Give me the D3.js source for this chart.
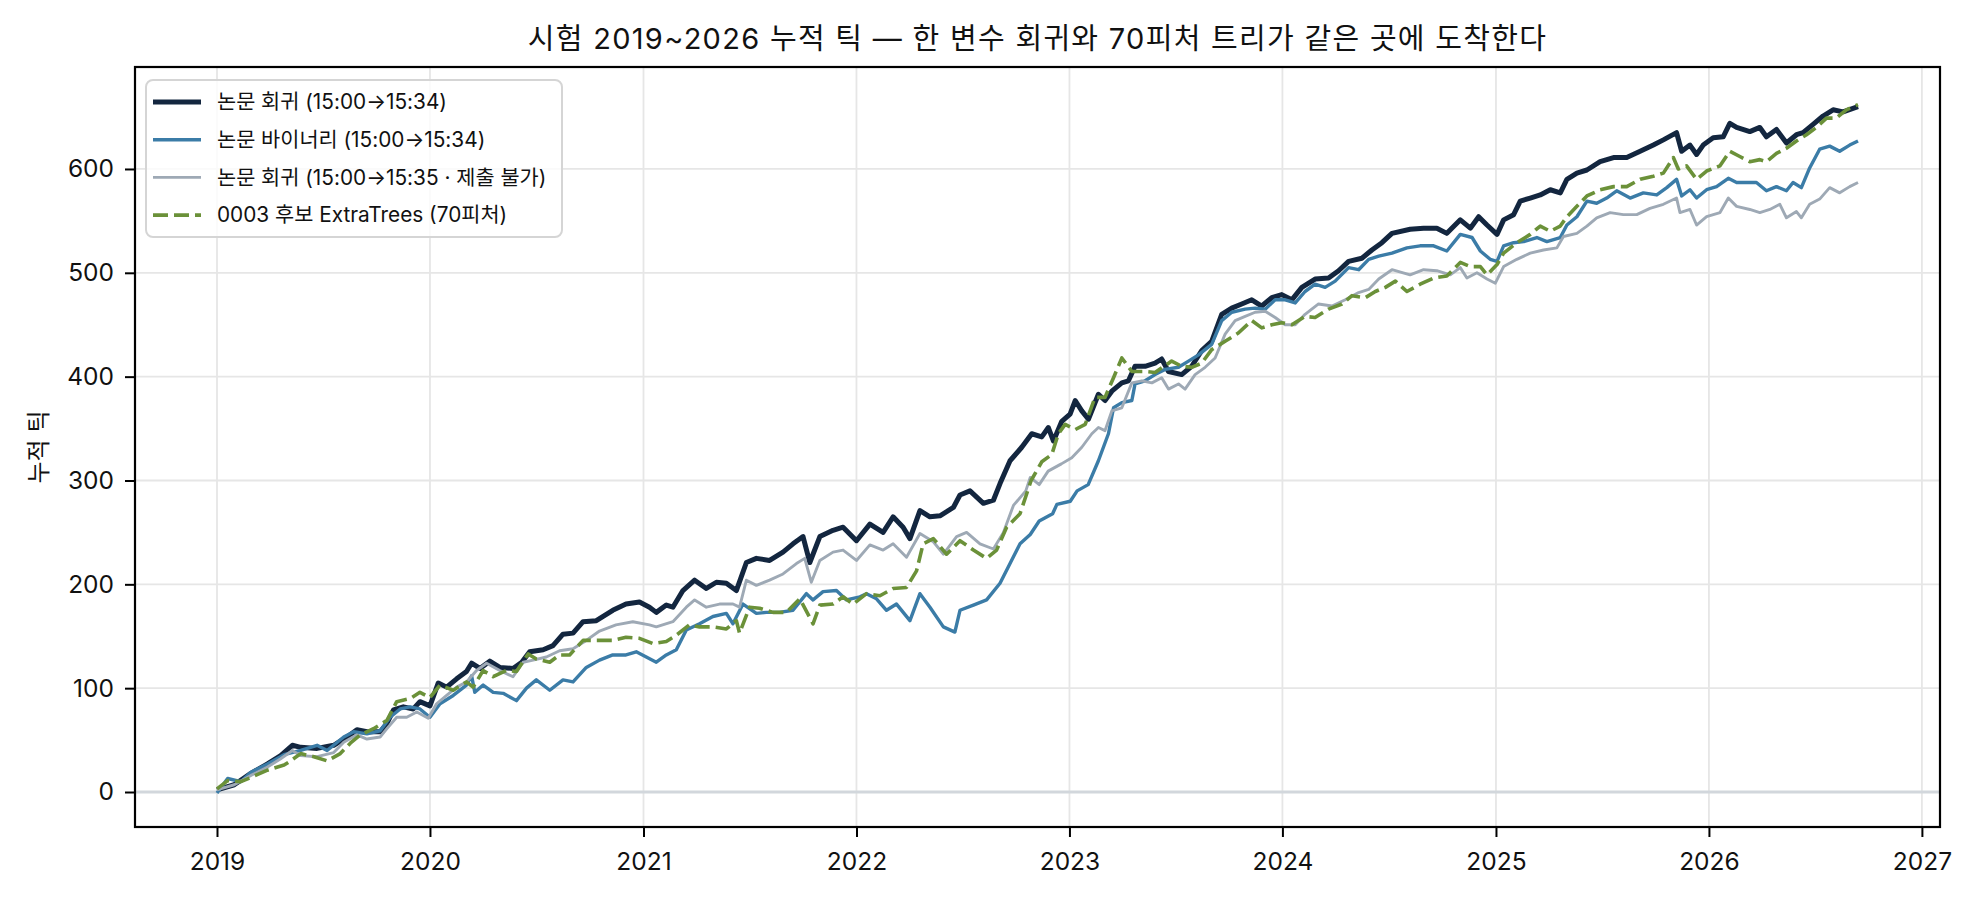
<!DOCTYPE html>
<html>
<head>
<meta charset="utf-8">
<script src="https://cdn.jsdelivr.net/npm/d3@7"></script>
<style>
  body { margin: 0; background: #fff; }
  text { font-family: "Inter", "Noto Sans CJK KR", sans-serif; fill: #111; }
</style>
</head>
<body>
<div id="chart"></div>
<script>
// cumulative ticks, test period 2019~2026

// values, [decimal year, cumulative ticks]
const navy = [[2019.000,2],[2019.081,7],[2019.159,18],[2019.237,27],[2019.299,35],[2019.354,45],[2019.393,43],[2019.470,42],[2019.548,45],[2019.611,53],[2019.657,60],[2019.704,58],[2019.766,58],[2019.798,66],[2019.829,79],[2019.875,82],[2019.922,80],[2019.953,87],[2020.000,83],[2020.039,105],[2020.078,101],[2020.125,109],[2020.171,116],[2020.195,124],[2020.234,119],[2020.280,126],[2020.327,120],[2020.389,119],[2020.430,125],[2020.467,135],[2020.530,137],[2020.576,141],[2020.623,152],[2020.670,153],[2020.717,164],[2020.779,165],[2020.856,175],[2020.918,181],[2020.981,183],[2021.028,178],[2021.060,173],[2021.107,180],[2021.138,178],[2021.185,194],[2021.240,204],[2021.295,196],[2021.342,202],[2021.389,201],[2021.436,194],[2021.483,221],[2021.530,225],[2021.592,223],[2021.655,231],[2021.702,239],[2021.749,246],[2021.781,221],[2021.828,246],[2021.890,252],[2021.937,255],[2022.000,242],[2022.063,258],[2022.125,250],[2022.172,265],[2022.219,255],[2022.251,244],[2022.298,271],[2022.345,265],[2022.392,266],[2022.455,274],[2022.486,286],[2022.533,290],[2022.596,278],[2022.643,281],[2022.674,297],[2022.721,319],[2022.776,332],[2022.823,345],[2022.870,342],[2022.901,351],[2022.925,338],[2022.964,357],[2023.003,364],[2023.027,377],[2023.058,367],[2023.089,359],[2023.136,383],[2023.167,377],[2023.199,386],[2023.246,394],[2023.277,396],[2023.308,410],[2023.355,410],[2023.402,413],[2023.433,417],[2023.465,405],[2023.527,402],[2023.574,410],[2023.621,425],[2023.668,434],[2023.715,460],[2023.762,466],[2023.809,470],[2023.856,474],[2023.903,468],[2023.950,476],[2023.997,479],[2024.044,474],[2024.091,486],[2024.153,494],[2024.216,495],[2024.263,502],[2024.310,511],[2024.372,514],[2024.419,522],[2024.466,529],[2024.513,538],[2024.598,542],[2024.661,543],[2024.723,543],[2024.770,538],[2024.833,551],[2024.880,543],[2024.919,554],[2024.958,546],[2025.005,537],[2025.036,551],[2025.083,556],[2025.114,569],[2025.161,572],[2025.208,575],[2025.255,580],[2025.302,577],[2025.333,590],[2025.380,596],[2025.427,599],[2025.489,607],[2025.552,611],[2025.614,611],[2025.677,617],[2025.739,623],[2025.786,628],[2025.848,635],[2025.872,617],[2025.911,623],[2025.942,614],[2025.973,623],[2026.020,630],[2026.067,631],[2026.098,644],[2026.130,640],[2026.192,636],[2026.239,640],[2026.270,631],[2026.317,638],[2026.364,625],[2026.411,633],[2026.442,635],[2026.489,643],[2026.536,651],[2026.583,657],[2026.630,655],[2026.700,660]];

const blue = [[2019.000,-1],[2019.050,13],[2019.112,10],[2019.159,19],[2019.237,27],[2019.315,36],[2019.393,40],[2019.470,45],[2019.517,40],[2019.595,53],[2019.642,58],[2019.704,56],[2019.766,59],[2019.813,72],[2019.860,80],[2019.907,82],[2019.953,80],[2020.000,72],[2020.047,85],[2020.109,93],[2020.171,103],[2020.195,112],[2020.210,96],[2020.249,103],[2020.296,96],[2020.343,95],[2020.405,88],[2020.452,100],[2020.498,108],[2020.561,98],[2020.623,108],[2020.670,106],[2020.732,120],[2020.794,127],[2020.856,132],[2020.918,132],[2020.966,135],[2021.013,130],[2021.060,125],[2021.107,132],[2021.154,137],[2021.201,156],[2021.263,162],[2021.326,169],[2021.389,172],[2021.420,162],[2021.467,181],[2021.530,172],[2021.577,173],[2021.639,173],[2021.702,175],[2021.765,191],[2021.796,185],[2021.843,193],[2021.906,194],[2021.953,185],[2022.016,188],[2022.047,191],[2022.094,186],[2022.141,175],[2022.188,181],[2022.251,165],[2022.298,191],[2022.345,178],[2022.408,159],[2022.462,154],[2022.486,175],[2022.549,180],[2022.611,185],[2022.674,201],[2022.721,220],[2022.768,239],[2022.816,248],[2022.858,261],[2022.921,268],[2022.941,277],[2023.004,280],[2023.036,290],[2023.088,296],[2023.136,319],[2023.183,345],[2023.207,370],[2023.246,375],[2023.293,377],[2023.308,393],[2023.355,396],[2023.402,402],[2023.449,407],[2023.512,409],[2023.559,415],[2023.606,421],[2023.668,431],[2023.715,454],[2023.762,462],[2023.825,465],[2023.872,466],[2023.919,465],[2023.966,474],[2024.013,474],[2024.060,471],[2024.106,482],[2024.153,489],[2024.200,486],[2024.247,492],[2024.310,505],[2024.357,503],[2024.404,513],[2024.451,516],[2024.513,519],[2024.583,524],[2024.645,526],[2024.708,526],[2024.770,521],[2024.833,537],[2024.888,534],[2024.927,521],[2024.973,513],[2025.005,511],[2025.036,526],[2025.083,529],[2025.130,530],[2025.192,534],[2025.239,530],[2025.302,534],[2025.333,546],[2025.380,554],[2025.427,569],[2025.473,567],[2025.520,572],[2025.567,579],[2025.630,572],[2025.692,577],[2025.755,575],[2025.802,582],[2025.848,590],[2025.872,574],[2025.911,580],[2025.942,572],[2025.989,580],[2026.036,583],[2026.091,591],[2026.130,587],[2026.177,587],[2026.223,587],[2026.270,579],[2026.317,583],[2026.364,579],[2026.395,587],[2026.434,582],[2026.473,601],[2026.520,619],[2026.567,622],[2026.614,617],[2026.661,623],[2026.700,627]];

const gray = [[2019.000,2],[2019.081,7],[2019.159,16],[2019.237,24],[2019.299,32],[2019.354,40],[2019.393,35],[2019.470,34],[2019.548,38],[2019.595,48],[2019.657,55],[2019.704,51],[2019.766,53],[2019.798,61],[2019.844,72],[2019.891,72],[2019.938,77],[2019.992,71],[2020.031,85],[2020.078,93],[2020.125,101],[2020.171,106],[2020.218,117],[2020.265,124],[2020.327,117],[2020.389,111],[2020.436,125],[2020.483,127],[2020.545,130],[2020.607,136],[2020.670,138],[2020.732,146],[2020.794,155],[2020.871,161],[2020.950,164],[2021.028,161],[2021.060,159],[2021.138,164],[2021.201,178],[2021.240,185],[2021.295,178],[2021.357,181],[2021.420,181],[2021.451,178],[2021.483,204],[2021.530,199],[2021.592,204],[2021.655,210],[2021.718,220],[2021.757,225],[2021.788,202],[2021.828,223],[2021.890,231],[2021.937,233],[2022.000,223],[2022.063,238],[2022.125,233],[2022.172,239],[2022.235,226],[2022.298,249],[2022.361,241],[2022.408,229],[2022.470,246],[2022.517,250],[2022.580,239],[2022.643,234],[2022.690,250],[2022.737,276],[2022.795,290],[2022.816,303],[2022.858,296],[2022.900,309],[2022.962,316],[2023.011,322],[2023.058,332],[2023.105,345],[2023.136,351],[2023.167,348],[2023.199,367],[2023.246,370],[2023.293,394],[2023.340,396],[2023.387,394],[2023.433,399],[2023.465,388],[2023.512,393],[2023.543,388],[2023.590,402],[2023.637,409],[2023.684,418],[2023.731,441],[2023.778,454],[2023.825,458],[2023.872,462],[2023.919,463],[2023.966,457],[2024.013,450],[2024.060,450],[2024.106,460],[2024.169,470],[2024.232,468],[2024.294,474],[2024.357,481],[2024.404,484],[2024.451,494],[2024.513,503],[2024.598,498],[2024.661,503],[2024.723,502],[2024.786,498],[2024.833,505],[2024.864,495],[2024.911,500],[2024.958,494],[2024.997,490],[2025.036,506],[2025.098,513],[2025.161,519],[2025.223,522],[2025.286,524],[2025.317,535],[2025.380,538],[2025.427,545],[2025.473,553],[2025.536,558],[2025.598,556],[2025.661,556],[2025.723,562],[2025.786,566],[2025.848,572],[2025.864,558],[2025.911,561],[2025.942,546],[2025.989,554],[2026.052,558],[2026.091,572],[2026.130,564],[2026.192,561],[2026.239,558],[2026.286,561],[2026.333,566],[2026.364,553],[2026.411,559],[2026.434,553],[2026.473,566],[2026.520,571],[2026.567,582],[2026.614,577],[2026.661,583],[2026.700,587]];

const green = [[2019.000,3],[2019.050,11],[2019.112,10],[2019.159,14],[2019.237,21],[2019.315,26],[2019.346,30],[2019.393,37],[2019.455,34],[2019.517,30],[2019.579,37],[2019.626,47],[2019.673,55],[2019.735,61],[2019.798,69],[2019.844,87],[2019.907,90],[2019.953,96],[2020.000,91],[2020.047,103],[2020.109,98],[2020.171,106],[2020.202,101],[2020.249,117],[2020.296,111],[2020.358,117],[2020.405,116],[2020.460,133],[2020.498,128],[2020.561,125],[2020.607,132],[2020.654,132],[2020.717,146],[2020.763,146],[2020.856,146],[2020.918,149],[2020.981,148],[2021.044,143],[2021.107,145],[2021.154,151],[2021.216,161],[2021.263,159],[2021.326,159],[2021.389,157],[2021.436,165],[2021.451,153],[2021.498,178],[2021.545,177],[2021.608,173],[2021.671,173],[2021.734,186],[2021.796,162],[2021.828,180],[2021.890,181],[2021.937,188],[2021.984,181],[2022.047,191],[2022.110,189],[2022.172,196],[2022.235,197],[2022.282,213],[2022.313,239],[2022.361,244],[2022.423,229],[2022.486,242],[2022.549,233],[2022.611,225],[2022.658,233],[2022.705,255],[2022.768,268],[2022.820,300],[2022.870,318],[2022.917,325],[2022.948,345],[2022.980,354],[2023.027,349],[2023.074,354],[2023.120,380],[2023.167,380],[2023.207,399],[2023.246,418],[2023.293,405],[2023.355,405],[2023.402,404],[2023.480,415],[2023.527,410],[2023.574,409],[2023.621,413],[2023.668,426],[2023.731,434],[2023.793,442],[2023.856,454],[2023.903,447],[2023.950,450],[2023.997,452],[2024.044,450],[2024.106,458],[2024.153,457],[2024.216,465],[2024.279,470],[2024.326,478],[2024.388,476],[2024.435,482],[2024.482,486],[2024.529,492],[2024.583,482],[2024.645,489],[2024.708,495],[2024.770,497],[2024.833,510],[2024.880,506],[2024.927,506],[2024.958,498],[2025.005,508],[2025.036,519],[2025.098,529],[2025.161,537],[2025.208,545],[2025.255,540],[2025.302,545],[2025.333,554],[2025.380,564],[2025.427,574],[2025.489,580],[2025.552,583],[2025.614,583],[2025.677,590],[2025.739,593],[2025.786,596],[2025.833,611],[2025.856,600],[2025.895,603],[2025.942,590],[2025.989,598],[2026.052,603],[2026.098,617],[2026.145,612],[2026.192,607],[2026.239,609],[2026.270,607],[2026.317,615],[2026.364,620],[2026.411,627],[2026.458,633],[2026.505,640],[2026.552,649],[2026.598,649],[2026.645,657],[2026.700,662]];

const seriesNames = ["논문 회귀 (15:00→15:34)", "논문 바이너리 (15:00→15:34)", "논문 회귀 (15:00→15:35 · 제출 불가)", "0003 후보 ExtraTrees (70피처)"];
const yTicks = [0, 100, 200, 300, 400, 500, 600];
const xTickYears = [2019, 2020, 2021, 2022, 2023, 2024, 2025, 2026, 2027];
const title = "시험 2019~2026 누적 틱 — 한 변수 회귀와 70피처 트리가 같은 곳에 도착한다";
const yLabel = "누적 틱";

const width = 1977, height = 900,
    margin = ({ top: 67, right: 37, bottom: 73, left: 135 });

// decimal year -> Date (UTC)
function decYear(t) {
    const y = Math.floor(t);
    const s = Date.UTC(y, 0, 1), e = Date.UTC(y + 1, 0, 1);
    return new Date(s + (t - y) * (e - s));
}

const svg = d3.select("#chart")
    .append("svg")
    .attr("width", width)
    .attr("height", height)
    .attr("viewBox", [0, 0, width, height]);

const x = d3.scaleUtc()
    .domain([decYear(2018.615), decYear(2027.085)])
    .range([margin.left, width - margin.right]);

const y = d3.scaleLinear()
    .domain([-33.7, 698.2])
    .range([height - margin.bottom, margin.top]);

const xTicks = xTickYears.map(yr => decYear(yr));

// grid
const grid = svg.append("g").attr("stroke", "#e6e6e6").attr("stroke-width", 1.8);
grid.selectAll(".vg").data(xTicks).join("line")
    .attr("x1", d => x(d)).attr("x2", d => x(d))
    .attr("y1", margin.top).attr("y2", height - margin.bottom);
grid.selectAll(".hg").data(yTicks).join("line")
    .attr("y1", d => y(d)).attr("y2", d => y(d))
    .attr("x1", margin.left).attr("x2", width - margin.right);

// zero line
svg.append("line")
    .attr("x1", margin.left).attr("x2", width - margin.right)
    .attr("y1", y(0)).attr("y2", y(0))
    .attr("stroke", "#d2d7dc").attr("stroke-width", 3);

const line = d3.line()
    .x(d => x(decYear(d[0])))
    .y(d => y(d[1]));

const styles = [
    { data: navy, color: "#13263f", w: 5, dash: null },
    { data: blue, color: "#3b7ca7", w: 3.4, dash: null },
    { data: gray, color: "#9ea9b5", w: 2.9, dash: null },
    { data: green, color: "#6b9139", w: 3.6, dash: "15,6" }
];

const plot = svg.append("g");
styles.forEach(s => {
    plot.append("path")
        .datum(s.data)
        .attr("d", line)
        .attr("fill", "none")
        .attr("stroke", s.color)
        .attr("stroke-width", s.w)
        .attr("stroke-linejoin", "round")
        .attr("stroke-dasharray", s.dash);
});

// axes
const xAxis = svg.append("g")
    .attr("transform", `translate(0,${height - margin.bottom})`)
    .call(d3.axisBottom(x).tickValues(xTicks).tickFormat(d3.utcFormat("%Y"))
        .tickSize(10).tickPadding(16).tickSizeOuter(0));
const yAxis = svg.append("g")
    .attr("transform", `translate(${margin.left},0)`)
    .call(d3.axisLeft(y).tickValues(yTicks).tickSize(10).tickPadding(11).tickSizeOuter(0));

[xAxis, yAxis].forEach(a => {
    a.select(".domain").remove();
    a.selectAll(".tick line").attr("stroke", "#000").attr("stroke-width", 2);
    a.selectAll(".tick text").attr("font-size", 24.5).attr("fill", "#111")
        .style("font-family", "Inter, 'Noto Sans CJK KR', sans-serif");
});

// frame
svg.append("rect")
    .attr("x", margin.left).attr("y", margin.top)
    .attr("width", width - margin.left - margin.right)
    .attr("height", height - margin.top - margin.bottom)
    .attr("fill", "none").attr("stroke", "#000").attr("stroke-width", 2.2);

// title
svg.append("text")
    .attr("x", (margin.left + width - margin.right) / 2)
    .attr("y", 49)
    .attr("text-anchor", "middle")
    .attr("font-size", 29)
    .attr("letter-spacing", 1.3)
    .text(title);

// y label
svg.append("text")
    .attr("transform", `translate(47,${(margin.top + height - margin.bottom) / 2}) rotate(-90)`)
    .attr("text-anchor", "middle")
    .attr("font-size", 24)
    .text(yLabel);

// legend
const legend = svg.append("g").attr("transform", "translate(146,80)");
legend.append("rect")
    .attr("width", 416).attr("height", 157).attr("rx", 7)
    .attr("fill", "#fff").attr("fill-opacity", 0.8)
    .attr("stroke", "#d5d5d5").attr("stroke-width", 2);

const rows = legend.selectAll(".row").data(styles).join("g")
    .attr("transform", (d, i) => `translate(0,${22 + i * 37.7})`);
rows.append("line")
    .attr("x1", 7).attr("x2", 55)
    .attr("stroke", d => d.color)
    .attr("stroke-width", d => d.w)
    .attr("stroke-dasharray", d => d.dash);
rows.append("text")
    .attr("x", 71).attr("dy", "0.35em")
    .attr("font-size", 20.8)
    .text((d, i) => seriesNames[i]);
</script>
</body>
</html>
